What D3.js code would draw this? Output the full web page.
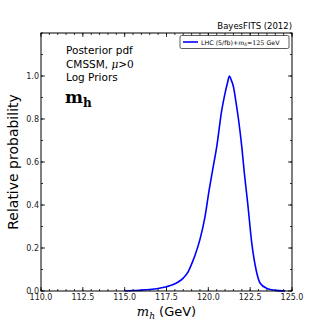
<!DOCTYPE html>
<html><head><meta charset="utf-8">
<script src="https://cdn.jsdelivr.net/npm/d3@7"></script>
<style>body{margin:0;background:#fff}svg{display:block}</style>
</head><body>
<script>
const massValues = [115.0,115.5,116.0,116.5,117.0,117.5,117.9,118.2,118.5,118.8,119.0,119.2,119.5,119.8,120.05,120.25,120.5,120.8,121.0,121.15,121.26,121.35,121.5,121.65,121.8,122.0,122.15,122.35,122.6,122.85,123.1,123.5,124.0,124.6];
const probValues = [0.0,0.002,0.004,0.007,0.012,0.02,0.03,0.042,0.06,0.09,0.125,0.165,0.24,0.345,0.47,0.56,0.67,0.84,0.92,0.97,1.0,0.985,0.95,0.88,0.8,0.67,0.55,0.41,0.22,0.1,0.036,0.012,0.003,0.0];
const xTicks = [110.0,112.5,115.0,117.5,120.0,122.5,125.0];
const yTicks = [0.0,0.2,0.4,0.6,0.8,1.0];
const xMinor = d3.range(110,125.01,0.5);
const yMinor = d3.range(0,1.201,0.1);
const legendLabel = "LHC (5/fb)+";
const infoLines = ["Posterior pdf","CMSSM, ","Log Priors"];

const W=324,H=324;
const m={l:41,r:292,t:33,b:291};
const svg=d3.select("body").append("svg").attr("width",W).attr("height",H);
const x=d3.scaleLinear().domain([110,125]).range([m.l,m.r]);
const y=d3.scaleLinear().domain([0,1.2]).range([m.b,m.t]);
const font="DejaVu Sans, sans-serif";

// minor ticks
const g=svg.append("g").attr("stroke","#000").attr("stroke-width",0.8);
xMinor.forEach(v=>{g.append("line").attr("x1",x(v)).attr("x2",x(v)).attr("y1",m.b).attr("y2",m.b-2);
 g.append("line").attr("x1",x(v)).attr("x2",x(v)).attr("y1",m.t).attr("y2",m.t+2);});
yMinor.forEach(v=>{g.append("line").attr("y1",y(v)).attr("y2",y(v)).attr("x1",m.l).attr("x2",m.l+2);
 g.append("line").attr("y1",y(v)).attr("y2",y(v)).attr("x1",m.r).attr("x2",m.r-2);});
// major ticks
xTicks.forEach(v=>{g.append("line").attr("x1",x(v)).attr("x2",x(v)).attr("y1",m.b).attr("y2",m.b-4);
 g.append("line").attr("x1",x(v)).attr("x2",x(v)).attr("y1",m.t).attr("y2",m.t+4);});
yTicks.forEach(v=>{g.append("line").attr("y1",y(v)).attr("y2",y(v)).attr("x1",m.l).attr("x2",m.l+4);
 g.append("line").attr("y1",y(v)).attr("y2",y(v)).attr("x1",m.r).attr("x2",m.r-4);});

// tick labels
svg.append("g").selectAll("text").data(xTicks).join("text")
 .attr("x",d=>x(d)).attr("y",m.b+9).attr("text-anchor","middle")
 .attr("font-family",font).attr("font-size",8).attr("fill","#222").text(d=>d.toFixed(1));
svg.append("g").selectAll("text").data(yTicks).join("text")
 .attr("x",m.l-2).attr("y",d=>y(d)+3).attr("text-anchor","end")
 .attr("font-family",font).attr("font-size",8).attr("fill","#222").text(d=>d.toFixed(1));

// curve
const line=d3.line().x((d,i)=>x(massValues[i])).y(d=>y(d)).curve(d3.curveMonotoneX);
svg.append("path").attr("d",line(probValues)).attr("fill","none").attr("stroke","#0000ff").attr("stroke-width",1.6);

// frame
svg.append("rect").attr("x",m.l).attr("y",m.t).attr("width",m.r-m.l).attr("height",m.b-m.t)
 .attr("fill","none").attr("stroke","#000").attr("stroke-width",1);

// title
svg.append("text").attr("x",m.r).attr("y",29).attr("text-anchor","end").attr("font-family",font)
 .attr("font-size",8.5).attr("fill","#000").text("BayesFITS (2012)");

// legend
const lg=svg.append("g");
lg.append("rect").attr("x",180).attr("y",35.5).attr("width",109).attr("height",13).attr("rx",1.5)
 .attr("fill","#fff").attr("stroke","#333").attr("stroke-width",0.8);
lg.append("line").attr("x1",183).attr("x2",198).attr("y1",42).attr("y2",42).attr("stroke","#0000ff").attr("stroke-width",1.6);
const lt=lg.append("text").attr("x",201).attr("y",44.5).attr("font-family",font).attr("font-size",6.3).attr("fill","#000");
lt.append("tspan").text(legendLabel);
lt.append("tspan").attr("font-family","DejaVu Serif, serif").attr("font-style","italic").text("m");
lt.append("tspan").attr("font-family","DejaVu Serif, serif").attr("font-style","italic").attr("font-size",4.5).attr("dy",1.5).text("h");
lt.append("tspan").attr("dy",-1.5).attr("font-family","DejaVu Serif, serif").text("\u2243125");
lt.append("tspan").text(" GeV");

// info text
const it=svg.append("g").attr("font-family",font).attr("font-size",10.5).attr("fill","#000");
it.append("text").attr("x",66).attr("y",54).text(infoLines[0]);
const t2=it.append("text").attr("x",66).attr("y",68);
t2.append("tspan").text(infoLines[1]);
t2.append("tspan").attr("font-family","DejaVu Serif, serif").attr("font-style","italic").text("\u03bc");
t2.append("tspan").attr("font-family","DejaVu Serif, serif").text(">0");
it.append("text").attr("x",66).attr("y",81).text(infoLines[2]);
const mh=svg.append("text").attr("x",65).attr("y",103).attr("font-family","DejaVu Serif, serif").attr("font-weight","bold").attr("fill","#000");
mh.append("tspan").attr("font-size",17).text("m");
mh.append("tspan").attr("font-size",12).attr("dy",4).text("h");

// axis labels
const xl=svg.append("text").attr("x",(m.l+m.r)/2).attr("y",316).attr("text-anchor","middle").attr("font-family",font).attr("font-size",13).attr("fill","#000");
xl.append("tspan").attr("font-family","DejaVu Serif, serif").attr("font-style","italic").text("m");
xl.append("tspan").attr("font-family","DejaVu Serif, serif").attr("font-style","italic").attr("font-size",9).attr("dy",3).text("h");
xl.append("tspan").attr("dy",-3).text(" (GeV)");
svg.append("text").attr("transform",`translate(18,${(m.t+m.b)/2}) rotate(-90)`).attr("text-anchor","middle")
 .attr("font-family",font).attr("font-size",14).attr("fill","#000").text("Relative probability");
</script>
</body></html>
